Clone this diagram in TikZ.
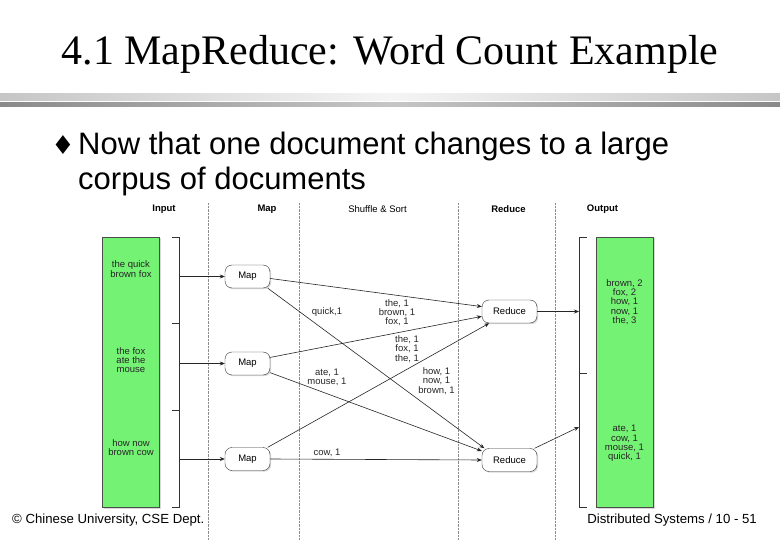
\documentclass[tikz,border=0pt]{standalone}
\usepackage{fontspec}
\setmainfont{Liberation Serif}
\setsansfont{Liberation Sans}
\newfontfamily\symfont{DejaVu Sans}
\usetikzlibrary{arrows.meta,shadows}

\definecolor{boxgreen}{RGB}{116,242,116}

\begin{document}
\begin{tikzpicture}[x=1pt, y=-1pt,
    every node/.style={font=\sffamily\fontsize{9.5}{9.3}\selectfont, inner sep=0pt},
    colhead/.style={font=\sffamily\bfseries\fontsize{9.5}{9.5}\selectfont},
    lane/.style={densely dotted, gray!90, thin},
    store/.style={draw=black!70, fill=boxgreen, minimum width=57pt, minimum height=270pt,
      drop shadow={shadow xshift=1.5pt, shadow yshift=-1.5pt, opacity=0.3}},
    task/.style={draw=black!80, fill=white, rounded corners=7pt, minimum width=45pt, minimum height=23pt,
      drop shadow={shadow xshift=1.2pt, shadow yshift=-1.2pt, opacity=0.3}},
    redtask/.style={task, minimum width=55pt},
    kv/.style={align=center, text=black!85},
    flow/.style={-{Stealth[length=5pt, width=4pt]}, black!85, semithick},
    brace/.style={black!80, thin}
  ]
    \useasboundingbox (0,0) rectangle (780,540);
    \fill[white] (0,0) rectangle (780,540);

    % slide header
    \node[font=\rmfamily\fontsize{42}{42}\selectfont, anchor=base] (title) at (390,65) {4.1 MapReduce: Word Count Example};
    \shade[left color=gray!45, right color=gray!45, middle color=gray!8] (0,94) rectangle (780,100.5);
    \shade[left color=gray!92, right color=gray!92, middle color=gray!45] (0,102.5) rectangle (780,107);
    \node[font=\symfont\fontsize{26}{26}\selectfont] (bullet) at (63,145) {♦};
    \node[font=\sffamily\fontsize{31}{35}\selectfont, anchor=base west, align=left] (point) at (78,190) {Now that one document changes to a large\\corpus of documents};

    % lanes
    \foreach \x in {208,299,458,555}
      \draw[lane] (\x,203) -- (\x,540);
    \node[colhead] (hin) at (164,209) {Input};
    \node[colhead] (hmap) at (267,209) {Map};
    \node (hshuf) at (377.5,209) {Shuffle \& Sort};
    \node[colhead] (hred) at (508.5,209) {Reduce};
    \node[colhead] (hout) at (602.5,209) {Output};

    % input and output
    \node[store] (input) at (130.5,372) {};
    \node[kv] (doc1) at (131,269) {the quick\\brown fox};
    \node[kv] (doc2) at (131,360) {the fox\\ate the\\mouse};
    \node[kv] (doc3) at (131,447.5) {how now\\brown cow};
    \node[store] (output) at (624.5,372) {};
    \node[kv] (res1) at (624.5,302) {brown, 2\\fox, 2\\how, 1\\now, 1\\the, 3};
    \node[kv] (res2) at (624.5,443.5) {ate, 1\\cow, 1\\mouse, 1\\quick, 1};

    \draw[brace] (172,237) -- (179,237) -- (179,507) -- (172,507);
    \draw[brace] (172,323) -- (179,323);
    \draw[brace] (172,410) -- (179,410);
    \draw[brace] (587,237) -- (579,237) -- (579,507) -- (587,507);
    \draw[brace] (579,373) -- (587,373);
    \coordinate (inA) at (179,276.5);
    \coordinate (inB) at (179,363.5);
    \coordinate (inC) at (179,459);
    \coordinate (outA) at (579,311.5);
    \coordinate (outB) at (579,427);

    % tasks
    \node[task] (map1) at (247.5,276.5) {Map};
    \node[task] (map2) at (247.5,363.5) {Map};
    \node[task] (map3) at (247.5,459) {Map};
    \node[redtask] (red1) at (509.5,311.5) {Reduce};
    \node[redtask] (red2) at (509.5,460) {Reduce};

    \draw[flow] (inA) -- (map1.west);
    \draw[flow] (inB) -- (map2.west);
    \draw[flow] (inC) -- (map3.west);
    \draw[flow] (map1.-5) -- (red1.170);
    \draw[flow] (map1.-30) -- (red2.155);
    \draw[flow] (map2.15) -- (red1.190);
    \draw[flow] (map2.-22) -- (red2.162);
    \draw[flow] (map3.30) -- (red1.-150);
    \draw[flow] (map3.east) -- (red2.west);
    \draw[flow] (red1.east) -- (outA);
    \draw[flow] (red2.25) -- (outB);

    % intermediate pairs
    \node[kv] (kq) at (327,312) {quick,1};
    \node[kv] (kbf) at (397,312.5) {the, 1\\brown, 1\\fox, 1};
    \node[kv] (kft) at (407,349) {the, 1\\fox, 1\\the, 1};
    \node[kv] (kam) at (327,377.5) {ate, 1\\mouse, 1};
    \node[kv] (khn) at (436.5,381) {how, 1\\now, 1\\brown, 1};
    \node[kv] (kc) at (327,453) {cow, 1};

    % footer
    \node[font=\sffamily\fontsize{13.2}{13.2}\selectfont, anchor=base west] (copy) at (12,523) {© Chinese University, CSE Dept.};
    \node[font=\sffamily\fontsize{13.2}{13.2}\selectfont, anchor=base east] (pageno) at (757,523) {Distributed Systems / 10 - 51};
  \end{tikzpicture}
\end{document}
